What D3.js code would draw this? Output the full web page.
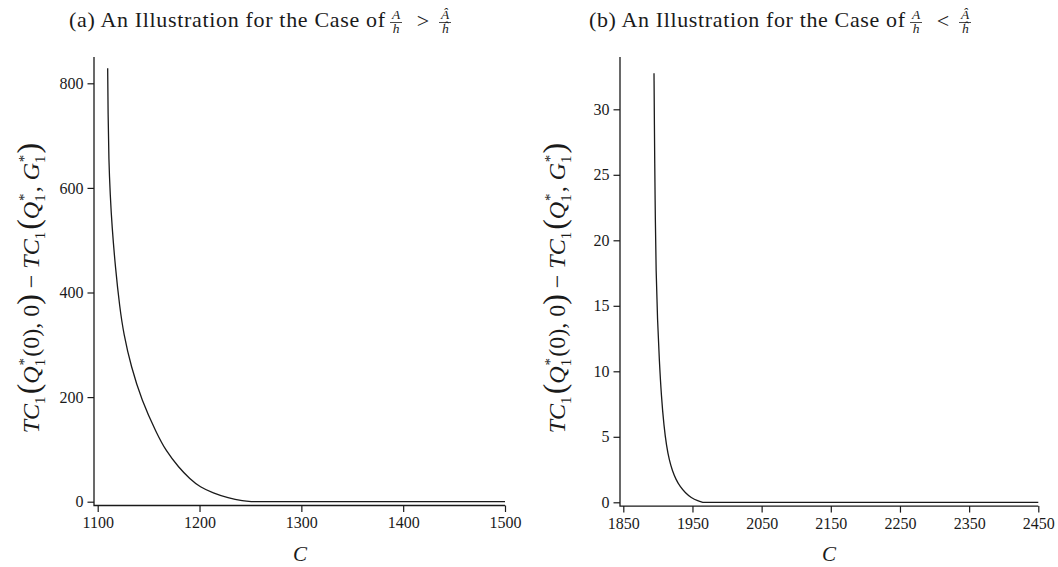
<!DOCTYPE html>
<html><head><meta charset="utf-8">
<script src="https://cdn.jsdelivr.net/npm/d3@7"></script>
<style>
body{margin:0;background:#fff;}
svg{display:block;font-family:"Liberation Serif","Times New Roman",serif;}
</style></head>
<body><svg id="c" width="1058" height="567"></svg>
<script>
// ---- data ----
const leftC = [1109.8,1110.2,1110.9,1112.3,1114.1,1117.4,1121.6,1125.4,1132.8,1143.2,1157.8,1167.1,1179.4,1190.7,1200.5,1213.3,1228,1242.7,1252.5,1300,1400,1500];
const leftV = [829,739,653,586,525,447,372,322,258,194,131,97,66,43,28,16.6,7,1.3,0,0,0,0];
const rightC = [1894.4,1894.9,1895.4,1896.3,1897.3,1899.5,1902,1905,1908.8,1912.5,1916.5,1921,1926,1932,1940,1948,1958,1965,2100,2450];
const rightV = [32.75,29.3,26.1,21.6,17.7,13.8,10.9,8.1,5.8,4.3,3.2,2.4,1.75,1.2,0.7,0.35,0.1,0,0,0];
const leftXTicks = [1100,1200,1300,1400,1500];
const leftYTicks = [0,200,400,600,800];
const rightXTicks = [1850,1950,2050,2150,2250,2350,2450];
const rightYTicks = [0,5,10,15,20,25,30];
const titles = [{lab:"(a) An Illustration for the Case of", rel:">"},{lab:"(b) An Illustration for the Case of", rel:"<"}];

const svg = d3.select("#c");
const ink = "#1a1a1a";

const panels = [
  {C:leftC, V:leftV, xt:leftXTicks, yt:leftYTicks, xd:[1100,1500], xr:[97.7,505], yd:[0,800], yr:[501.7,83.3], spineX:94, spineTop:57, title:titles[0], tcx:260, ylx:31, xlx:300},
  {C:rightC, V:rightV, xt:rightXTicks, yt:rightYTicks, xd:[1850,2450], xr:[623.3,1038.3], yd:[0,30], yr:[502.3,109.3], spineX:620, spineTop:57, title:titles[1], tcx:780, ylx:557, xlx:829}
];

panels.forEach(p=>{
  const x = d3.scaleLinear().domain(p.xd).range(p.xr);
  const y = d3.scaleLinear().domain(p.yd).range(p.yr);
  const spineY = y(0)+3.8;
  const g = svg.append("g");
  g.append("path").attr("d",`M${p.spineX},${p.spineTop}V${spineY}H${p.xr[1]}`)
    .attr("fill","none").attr("stroke",ink).attr("stroke-width",1.3);
  const ya = g.append("g").attr("transform",`translate(${p.spineX},0)`)
    .call(d3.axisLeft(y).tickValues(p.yt).tickSize(6.5).tickPadding(4).tickFormat(d3.format("d")));
  ya.select(".domain").remove();
  ya.selectAll("line").attr("stroke",ink).attr("stroke-width",1.2);
  ya.selectAll("text").attr("font-size",16).attr("fill",ink).attr("font-family","Liberation Serif");
  const xa = g.append("g").attr("transform",`translate(0,${spineY})`)
    .call(d3.axisBottom(x).tickValues(p.xt).tickSize(6.5).tickPadding(5).tickFormat(d3.format("d")));
  xa.select(".domain").remove();
  xa.selectAll("line").attr("stroke",ink).attr("stroke-width",1.2);
  xa.selectAll("text").attr("font-size",16).attr("fill",ink).attr("font-family","Liberation Serif");
  // curve: smooth through the decaying part, straight along the zero part
  const data = p.C.map((c,i)=>[c,p.V[i]]);
  const z = data.findIndex(d=>d[1]===0);
  const curvePart = data.slice(0, z+1);
  const flatPart = data.slice(z);
  const dCurve = d3.line().x(d=>x(d[0])).y(d=>y(d[1])).curve(d3.curveBasis)(curvePart);
  const dFlat = d3.line().x(d=>x(d[0])).y(d=>y(d[1]))(flatPart);
  g.append("path").attr("d", dCurve + "L" + dFlat.slice(1))
    .attr("fill","none").attr("stroke",ink).attr("stroke-width",1.3).attr("stroke-linejoin","round");
  g.append("text").attr("x",p.xlx).attr("y",561).attr("text-anchor","middle")
    .attr("font-size",21).attr("font-style","italic").attr("fill",ink).text("C");
  const yl = g.append("text").attr("transform",`translate(${p.ylx+8},${288}) rotate(-90)`)
    .attr("text-anchor","middle").attr("font-size",24).attr("fill",ink);
  const parts = [
    ["TC","i"],["1","s"],["(","b"],["Q","i"],["1*","ss"],["(0), 0","n"],[")","b"],
    [" − ","n"],
    ["TC","i"],["1","s"],["(","b"],["Q","i"],["1*","ss"],[", ","n"],["G","i"],["1*","ss"],[")","b"]
  ];
  parts.forEach(pt=>{
    const [t,k] = pt;
    if(k==="i"){ yl.append("tspan").attr("font-style","italic").text(t); }
    else if(k==="n"){ yl.append("tspan").text(t); }
    else if(k==="b"){ yl.append("tspan").attr("font-size",32).attr("dy",0).text(t); }
    else if(k==="s"){ yl.append("tspan").attr("font-size",15).attr("dy",6).text(t);
                      yl.append("tspan").attr("font-size",24).attr("dy",-6).text("\u200A"); }
    else if(k==="ss"){ yl.append("tspan").attr("font-size",15).attr("dy",6).text("1");
                       yl.append("tspan").attr("font-size",15).attr("dx",-7.5).attr("dy",-16).attr("font-style","italic").text("*");
                       yl.append("tspan").attr("font-size",24).attr("dy",10).text("\u200A"); }
  });
  const tg = svg.append("g");
  const mainW = 316, total = mainW + 66;
  const sx = p.tcx - total/2;
  tg.append("text").attr("x",sx).attr("y",27).attr("font-size",22).attr("fill",ink)
    .attr("textLength",mainW).attr("lengthAdjust","spacing").text(p.title.lab);
  const ex = sx + mainW;
  function frac(cx, num, den){
    tg.append("text").attr("x",cx).attr("y",19).attr("text-anchor","middle").attr("font-size",13.5)
      .attr("font-style","italic").attr("fill",ink).text(num);
    tg.append("line").attr("x1",cx-6).attr("x2",cx+6).attr("y1",22.5).attr("y2",22.5)
      .attr("stroke",ink).attr("stroke-width",0.8);
    tg.append("text").attr("x",cx).attr("y",33).attr("text-anchor","middle").attr("font-size",13.5)
      .attr("font-style","italic").attr("fill",ink).text(den);
  }
  frac(ex+11,"A","h");
  tg.append("text").attr("x",ex+38).attr("y",28).attr("text-anchor","middle").attr("font-size",22)
    .attr("fill",ink).text(p.title.rel);
  frac(ex+60,"Â","ĥ");
});
</script></body></html>
